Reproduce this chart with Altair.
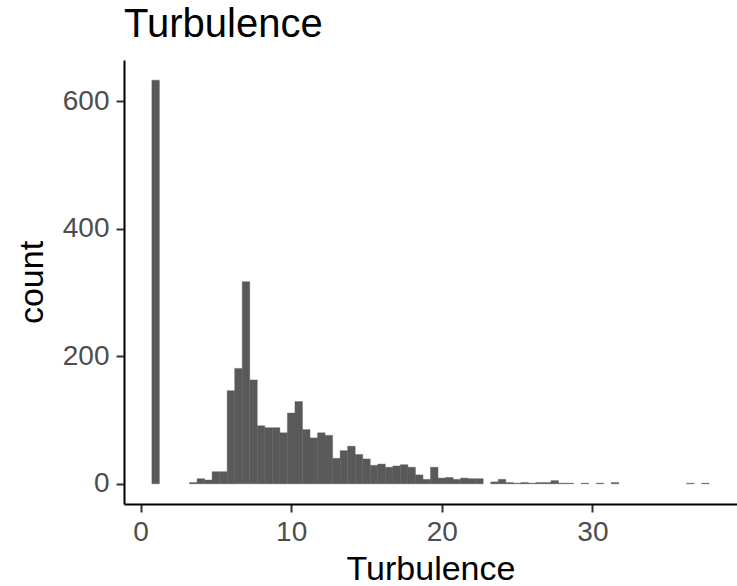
import altair as alt
import pandas as pd

# Histogram bins (centre of each 0.5-wide bin) and counts
bin_centers = [1.0, 1.5, 2.0, 2.5, 3.0, 3.5, 4.0, 4.5, 5.0, 5.5,
               6.0, 6.5, 7.0, 7.5, 8.0, 8.5, 9.0, 9.5, 10.0, 10.5,
               11.0, 11.5, 12.0, 12.5, 13.0, 13.5, 14.0, 14.5, 15.0, 15.5,
               16.0, 16.5, 17.0, 17.5, 18.0, 18.5, 19.0, 19.5, 20.0, 20.5,
               21.0, 21.5, 22.0, 22.5, 23.0, 23.5, 24.0, 24.5, 25.0, 25.5,
               26.0, 26.5, 27.0, 27.5, 28.0, 28.5, 29.0, 29.5, 30.0, 30.5,
               31.0, 31.5, 32.0, 32.5, 33.0, 33.5, 34.0, 34.5, 35.0, 35.5,
               36.0, 36.5, 37.0, 37.5]
counts = [633, 0, 0, 0, 0, 2, 8, 6, 19, 19,
          146, 181, 317, 163, 91, 88, 88, 80, 111, 129,
          85, 72, 80, 76, 40, 52, 59, 46, 39, 29,
          31, 26, 28, 30, 26, 14, 7, 26, 9, 10,
          7, 9, 8, 8, 0, 3, 7, 2, 1, 2,
          1, 2, 2, 5, 1, 1, 0, 1, 0, 1,
          0, 2, 0, 0, 0, 0, 0, 0, 0, 0,
          0, 1, 0, 1]
bin_width = 0.5
x_ticks = [0, 10, 20, 30]
y_ticks = [0, 200, 400, 600]
chart_title = ["Turbulence"]

df = pd.DataFrame({"center": bin_centers, "count": counts})
title_df = pd.DataFrame({"title": chart_title})

font = "Liberation Sans"

x_scale = alt.Scale(domain=[-1.1, 39.6], nice=False, zero=False)
y_scale = alt.Scale(domain=[-31.65, 664.65], nice=False, zero=False)

bars = (
    alt.Chart(df)
    .transform_filter("datum.count > 0")
    .transform_calculate(
        start=f"datum.center - {bin_width / 2}",
        end=f"datum.center + {bin_width / 2}",
    )
    .mark_rect(color="#595959", stroke="#595959", strokeWidth=0.4)
    .encode(
        x=alt.X(
            "start:Q",
            scale=x_scale,
            axis=alt.Axis(
                title="Turbulence",
                values=x_ticks,
                format="d",
                grid=False,
                domainColor="black",
                domainWidth=2,
                tickColor="#333333",
                tickWidth=2,
                tickSize=8,
                labelFont=font,
                labelFontSize=28,
                labelColor="#4D4D4D",
                labelPadding=6,
                titleFont=font,
                titleFontSize=34,
                titleFontWeight="normal",
                titleColor="black",
                titleBaseline="alphabetic",
                titleX=306.5,
                titleY=75,
            ),
        ),
        x2="end:Q",
        y=alt.Y(
            "count:Q",
            scale=y_scale,
            axis=alt.Axis(
                title="count",
                values=y_ticks,
                format="d",
                grid=False,
                domainColor="black",
                domainWidth=2,
                tickColor="#333333",
                tickWidth=2,
                tickSize=8,
                labelFont=font,
                labelFontSize=28,
                labelColor="#4D4D4D",
                labelPadding=7,
                titleFont=font,
                titleFontSize=34,
                titleFontWeight="normal",
                titleColor="black",
                titleBaseline="alphabetic",
                titleAngle=270,
                titleAlign="center",
                titleX=-82,
                titleY=222,
            ),
        ),
        y2=alt.datum(0),
    )
)

title_text = (
    alt.Chart(title_df)
    .mark_text(
        align="left",
        baseline="alphabetic",
        font=font,
        fontSize=40,
        color="black",
    )
    .encode(text="title:N", x=alt.value(0), y=alt.value(-23))
)

chart = (
    alt.layer(bars, title_text)
    .properties(
        width=613,
        height=444,
        background="white",
        autosize=alt.AutoSizeParams(type="none"),
        padding={"left": 124, "top": 60, "right": 0, "bottom": 82},
    )
    .configure_view(strokeWidth=0)
)

chart.save("out.html", embed_options={"renderer": "svg", "actions": False})
